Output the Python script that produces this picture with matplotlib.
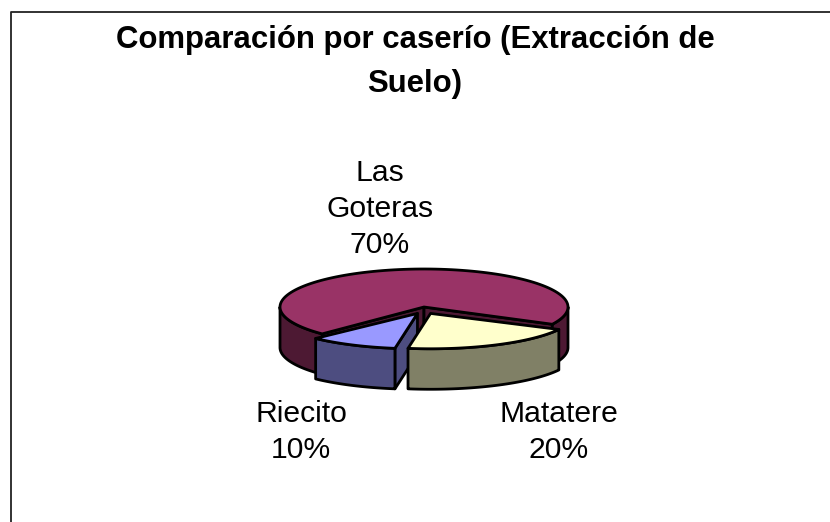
import numpy as np
import matplotlib
matplotlib.use('Agg')
import matplotlib.pyplot as plt
from matplotlib.patches import Polygon

plt.rcParams['font.family'] = ['Liberation Sans', 'DejaVu Sans']

title = 'Comparación por caserío (Extracción de\nSuelo)'
labels = ['Las\nGoteras\n70%', 'Matatere\n20%', 'Riecito\n10%']
values = [70, 20, 10]
top_colors = ['#993366', '#ffffcc', '#9999ff']
side_colors = ['#4d1933', '#808066', '#4d4d80']
explode = [0, 1, 1]

# pie geometry in pixels
cx, cy = 424, 307
rx, ry = 144, 38
depth = 40.5
start = 135  # degrees clockwise from east, where the first slice starts
ex, ey = 0.10, 0.19
shrink = 0.93  # exploded slices come out a bit flatter


def arc(a0, a1, ox, oy, ryy, dz=0):
    t = np.radians(np.linspace(a0, a1, 120))
    return np.column_stack([cx + ox + rx * np.cos(t), cy + oy + dz + ryy * np.sin(t)])


def draw_slice(ax, a0, a1, ox, oy, ryy, top, side):
    apex = np.array([cx + ox, cy + oy])
    down = np.array([0, depth])
    kw = dict(facecolor=side, edgecolor='black', lw=2, joinstyle='round')
    # cut faces, only if they look towards the viewer
    if np.sin(np.radians(a0 - 90)) > 0:
        p = arc(a0, a0, ox, oy, ryy)[0]
        ax.add_patch(Polygon([apex, p, p + down, apex + down], **kw))
    if np.sin(np.radians(a1 + 90)) > 0:
        p = arc(a1, a1, ox, oy, ryy)[0]
        ax.add_patch(Polygon([apex, p, p + down, apex + down], **kw))
    # outer wall, only the part facing the viewer
    for lo, hi in ((a0, a1), (a0 - 360, a1 - 360)):
        w0, w1 = max(lo, 0), min(hi, 180)
        if w0 < w1:
            ax.add_patch(Polygon(np.vstack([arc(w0, w1, ox, oy, ryy),
                                            arc(w1, w0, ox, oy, ryy, depth)]), **kw))
    ax.add_patch(Polygon(np.vstack([apex, arc(a0, a1, ox, oy, ryy)]), facecolor=top,
                         edgecolor='black', lw=2, joinstyle='round'))


fig = plt.figure(figsize=(8.3, 5.22), dpi=100)
ax = fig.add_axes([0, 0, 1, 1])
ax.set_xlim(0, 830)
ax.set_ylim(522, 0)
ax.axis('off')

# chart area border
ax.plot([10.8, 10.8, 830], [522, 12, 12], color='#222222', lw=1.3)

total = sum(values)
a = start
slices = []
for i in range(len(values)):
    a1 = a + values[i] / total * 360
    slices.append((a, a1))
    a = a1

# Matatere goes last, it sits on top of the Riecito cut face
for i in (0, 2, 1):
    a0, a1 = slices[i]
    mid = np.radians((a0 + a1) / 2)
    ox = explode[i] * ex * rx * np.cos(mid)
    oy = explode[i] * ey * ry * np.sin(mid)
    ryy = ry * shrink if explode[i] else ry
    draw_slice(ax, a0, a1, ox, oy, ryy, top_colors[i], side_colors[i])

ax.text(415, 62, title, ha='center', va='center', fontsize=22.4, fontweight='bold', linespacing=1.6)

pos = [(380, 209), (559, 432), (301, 432)]
for (x, y), s in zip(pos, labels):
    ax.text(x, y, s, ha='center', va='center', fontsize=21.7, linespacing=1.37)

fig.savefig('out.png', dpi=100)
